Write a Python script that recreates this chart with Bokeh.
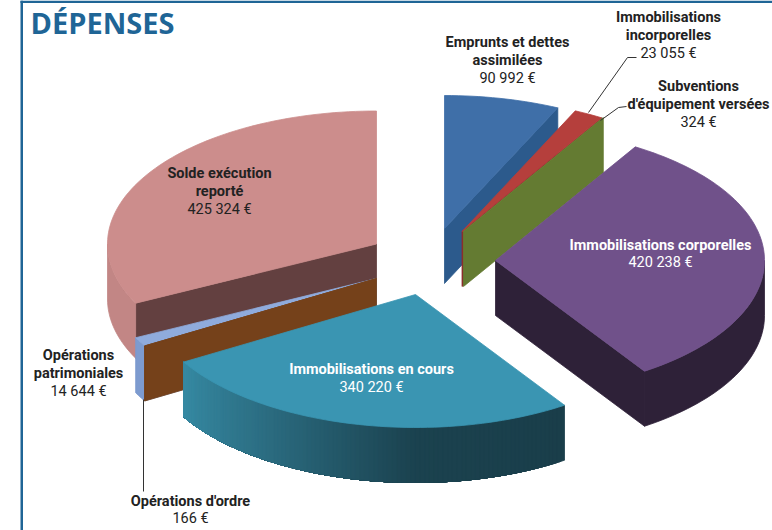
import math
from bokeh.plotting import figure
from bokeh.models import Range1d
from bokeh.core.properties import value
from bokeh.embed import file_html
from bokeh.resources import INLINE

# --- data, clockwise from 12 o'clock
names = ["Emprunts et dettes assimilées", "Immobilisations incorporelles",
         "Subventions d'équipement versées", "Immobilisations corporelles",
         "Immobilisations en cours", "Opérations d'ordre",
         "Opérations patrimoniales", "Solde exécution reporté"]
amounts = [90992, 23055, 324, 420238, 340220, 166, 14644, 425324]
amount_labels = ["90 992 €", "23 055 €", "324 €", "420 238 €", "340 220 €", "166 €", "14 644 €", "425 324 €"]

# --- style: exploded-pie projection (page pixels)
A, B, DEPTH = 269, 133, 55
centers = [(444, 228), (461.5, 231), (463, 231), (495, 260), (415, 294), (376, 278), (376, 278), (376, 243.5)]
top_col = ["#3f6fa8", "#b53f3c", "#6a8036", "#70518a", "#3a95b2", "#75411a", "#8fabdc", "#cc8d8c"]
side_col = ["#2c5a8c", "#8c2f2c", "#647b32", "#2e2138", None, "#75411a", "#7d9bcf", "#c28685"]
face_col = ["#2c5a8c", "#8c2f2c", "#647b32", "#2e2138", "#1b3f4b", "#75411a", "#7d9bcf", "#634040"]
draw_order = [7, 6, 5, 0, 1, 2, 3, 4]
teal_stops = [(146.5, (26, 62, 74)), (180, (27, 66, 79)), (215, (44, 110, 131)), (240, (54, 138, 163))]

label_lines = [
    (["Emprunts et dettes", "assimilées", amount_labels[0]], 507, [42, 60, 78], "#222222"),
    (["Immobilisations", "incorporelles", amount_labels[1]], 668, [17, 35, 53], "#222222"),
    (["Subventions", "d'équipement versées", amount_labels[2]], 698, [86, 104, 122], "#222222"),
    (["Immobilisations corporelles", amount_labels[3]], 660, [245, 262], "#ffffff"),
    (["Immobilisations en cours", amount_labels[4]], 371, [369, 387], "#ffffff"),
    (["Opérations d'ordre", amount_labels[5]], 190, [501, 518], "#222222"),
    (["Opérations", "patrimoniales", amount_labels[6]], 78, [355, 373, 391], "#222222"),
    (["Solde exécution", "reporté", amount_labels[7]], 219, [173, 191, 209], "#222222"),
]
leaders = [([588, 627, 636], [112, 57, 57]), ([600, 618, 626], [120, 107, 106]), ([143, 143], [399, 491])]

p = figure(width=772, height=530, output_backend="svg", toolbar_location=None,
           x_range=Range1d(0, 772), y_range=Range1d(530, 0), min_border=0)
p.axis.visible = False
p.xaxis.visible = False
p.yaxis.visible = False
p.grid.visible = False
p.outline_line_color = None
p.background_fill_color = "#ffffff"

total = sum(amounts)
bounds = [0]
for v in amounts:
    bounds.append(bounds[-1] + v / total * 360)


def pt(c, deg, dz=0):
    r = math.radians(deg)
    return c[0] + A * math.sin(r), c[1] - B * math.cos(r) + dz


def arc(c, a0, a1, dz=0):
    n = max(2, int(abs(a1 - a0) / 1.5) + 2)
    return [pt(c, a0 + (a1 - a0) * i / (n - 1), dz) for i in range(n)]


def poly(points, col):
    p.patch([q[0] for q in points], [q[1] for q in points], fill_color=col,
            line_color=col, line_width=0.8)


def radial(c, deg, col):
    e = pt(c, deg)
    poly([c, e, (e[0], e[1] + DEPTH), (c[0], c[1] + DEPTH)], col)


def teal(deg):
    for (a0, c0), (a1, c1) in zip(teal_stops, teal_stops[1:]):
        if deg <= a1:
            t = max(0, (deg - a0) / (a1 - a0))
            return "#%02x%02x%02x" % tuple(round(u + (w - u) * t) for u, w in zip(c0, c1))
    return "#%02x%02x%02x" % teal_stops[-1][1]


for i in draw_order:
    c, a0, a1 = centers[i], bounds[i], bounds[i + 1]
    if math.sin(math.radians(a0)) < 0:
        radial(c, a0, face_col[i])
    if math.sin(math.radians(a1)) > 0:
        radial(c, a1, face_col[i])
    lo, hi = max(a0, 90), min(a1, 270)
    if hi > lo:
        if side_col[i] is None:
            steps = int(hi - lo) + 1
            for k in range(steps):
                s0 = lo + (hi - lo) * k / steps
                s1 = lo + (hi - lo) * (k + 1) / steps
                poly(arc(c, s0, hi) + arc(c, hi, s0, DEPTH), teal((s0 + s1) / 2))
        else:
            poly(arc(c, lo, hi) + arc(c, hi, lo, DEPTH), side_col[i])
    poly([c] + arc(c, a0, a1), top_col[i])

for xs, ys in leaders:
    p.line(xs, ys, line_color="#333333", line_width=1)

# frame
p.quad(left=[20], right=[22.5], top=[0], bottom=[530], fill_color="#1f6596", line_color=None)
p.quad(left=[20], right=[772], top=[0], bottom=[2.5], fill_color="#1f6596", line_color=None)
p.text([30], [22], text=["DÉPENSES"], text_font=value("Open Sans"), text_font_style="bold",
       text_font_size="29px", text_color="#1f6596", text_align="left", text_baseline="middle")

for lines, x, ys, col in label_lines:
    for j, (txt, y) in enumerate(zip(lines, ys)):
        is_amount = j == len(lines) - 1
        p.text([x], [y], text=[txt], text_font=value("Roboto"),
               text_font_style="normal" if is_amount else "bold",
               text_font_size="14.5px", text_color=col, text_align="center", text_baseline="middle")

open("out.html", "w").write(file_html(p, INLINE))
